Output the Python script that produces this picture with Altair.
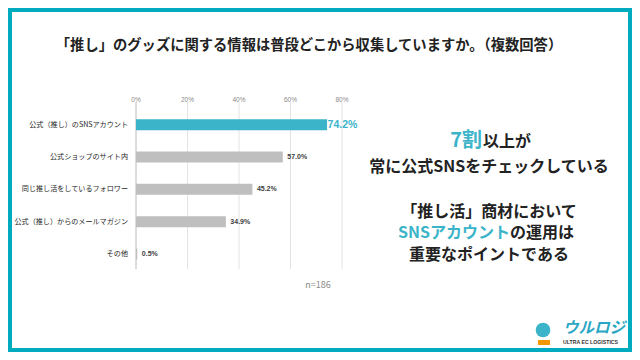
import altair as alt
import pandas as pd

# ---- data ----
categories = ["公式（推し）のSNSアカウント", "公式ショップのサイト内", "同じ推し活をしているフォロワー",
              "公式（推し）からのメールマガジン", "その他"]
values = [74.2, 57.0, 45.2, 34.9, 0.5]
highlight = [True, False, False, False, False]
tick_values = [0, 20, 40, 60, 80]
tick_labels = ["0%", "20%", "40%", "60%", "80%"]
title_text = "「推し」のグッズに関する情報は普段どこから収集していますか。（複数回答）"
note_text = "n=186"
msg1_a, msg1_b = "7割", "以上が"
msg2 = "常に公式SNSをチェックしている"
msg3 = "「推し活」商材において"
msg4_a, msg4_b = "SNSアカウント", "の運用は"
msg5 = "重要なポイントである"
logo_text = "ウルロジ"
logo_sub = "ULTRA EC LOGISTICS"

FRAME = "#00ABC0"
TEAL = "#3BB4C9"
GRAY = "#BFBFBF"
DARK = "#222222"
FONT = "Noto Sans CJK JP"

df = pd.DataFrame({"cat": categories, "val": values, "hl": highlight})
df["label"] = [f"{v:.1f}%" for v in values]
df["color"] = [TEAL if h else GRAY for h in highlight]
ticks = pd.DataFrame({"t": tick_values, "lab": tick_labels})
one = pd.DataFrame({"k": [0]})

xs = alt.Scale(domain=[0, 80], range=[128, 334])
ys = alt.Scale(domain=categories, range=[100.5, 262.2], paddingInner=0, paddingOuter=0)

X = lambda f: alt.X(f, scale=xs, axis=None)
Y = lambda: alt.Y("cat:N", scale=ys, axis=None, sort=categories)

base = alt.Chart(one)

frame = base.mark_rect(color="white").encode(
    x=alt.value(4), x2=alt.value(620), y=alt.value(4), y2=alt.value(340))

grid = alt.Chart(ticks).mark_rule(color="#E3E3E3", strokeWidth=1).encode(
    x=X("t:Q"), y=alt.value(94), y2=alt.value(261))
zero = alt.Chart(ticks).transform_filter("datum.t == 0").mark_rule(color="#C8C8C8", strokeWidth=1).encode(
    x=X("t:Q"), y=alt.value(94), y2=alt.value(261))
tick_txt = alt.Chart(ticks).mark_text(fontSize=6.5, color="#8A8A8A", font="Liberation Sans", baseline="middle").encode(
    x=X("t:Q"), y=alt.value(92), text="lab:N")

bars = alt.Chart(df).mark_bar(size=11).encode(
    x=X("val:Q"), y=Y(), color=alt.Color("color:N", scale=None))
cat_txt = alt.Chart(df).mark_text(fontSize=7.1, color="#1E1E1E", font=FONT, align="right", baseline="middle").encode(
    y=Y(), x=alt.value(120), text="cat:N")
val_hl = alt.Chart(df).transform_filter("datum.hl").mark_text(
    fontSize=10.5, color=TEAL, font="Liberation Sans", fontWeight="bold", align="left", baseline="middle", dx=0.5).encode(
    x=X("val:Q"), y=Y(), text="label:N")
val_ot = alt.Chart(df).transform_filter("!datum.hl").mark_text(
    fontSize=7, color="#404040", font="Liberation Sans", fontWeight="bold", align="left", baseline="middle", dx=4.5).encode(
    x=X("val:Q"), y=Y(), text="label:N")

def txt(s, x, y, size, color=DARK, align="center", weight="bold", font=FONT, italic=False):
    kw = dict(fontSize=size, color=color, align=align, baseline="middle", fontWeight=weight, font=font)
    if italic:
        kw["fontStyle"] = "italic"
    return alt.Chart(pd.DataFrame({"s": [s]})).mark_text(**kw).encode(
        x=alt.value(x), y=alt.value(y), text="s:N")

title = txt(title_text, 301, 37.7, 14.3)
note = txt(note_text, 310, 277, 9, color="#8A8A8A", weight="normal")
m1a = txt(msg1_a, 474, 133.2, 20, color=TEAL, align="right")
m1b = txt(msg1_b, 475, 134.2, 16, align="left")
m2 = txt(msg2, 481, 158.7, 16)
m3 = txt(msg3, 481, 203.7, 16)
m4a = txt(msg4_a, 502, 225.3, 16, color=TEAL, align="right")
m4b = txt(msg4_b, 502, 225.3, 16, align="left")
m5 = txt(msg5, 481, 247, 16)

logo_circle = base.mark_point(filled=True, shape="circle", size=214, color=TEAL, opacity=1).encode(
    x=alt.value(535), y=alt.value(322))
logo_shoe = base.mark_rect(color="#F39800").encode(
    x=alt.value(530), x2=alt.value(542), y=alt.value(332), y2=alt.value(337))
logo_t = txt(logo_text, 555, 320, 15.5, color="#2AA7C4", align="left", italic=True)
logo_s = txt(logo_sub, 555, 334, 5.2, color="#333333", align="left", font="Liberation Sans")

chart = alt.layer(
    frame, grid, zero, tick_txt, bars, cat_txt, val_hl, val_ot,
    title, note, m1a, m1b, m2, m3, m4a, m4b, m5,
    logo_circle, logo_shoe, logo_t, logo_s,
).properties(
    width=624, height=344, autosize=alt.AutoSizeParams(type="none"), padding=0, background=FRAME
).configure_view(stroke=None)

chart.save("out.html", embed_options={"renderer": "svg", "actions": False})
